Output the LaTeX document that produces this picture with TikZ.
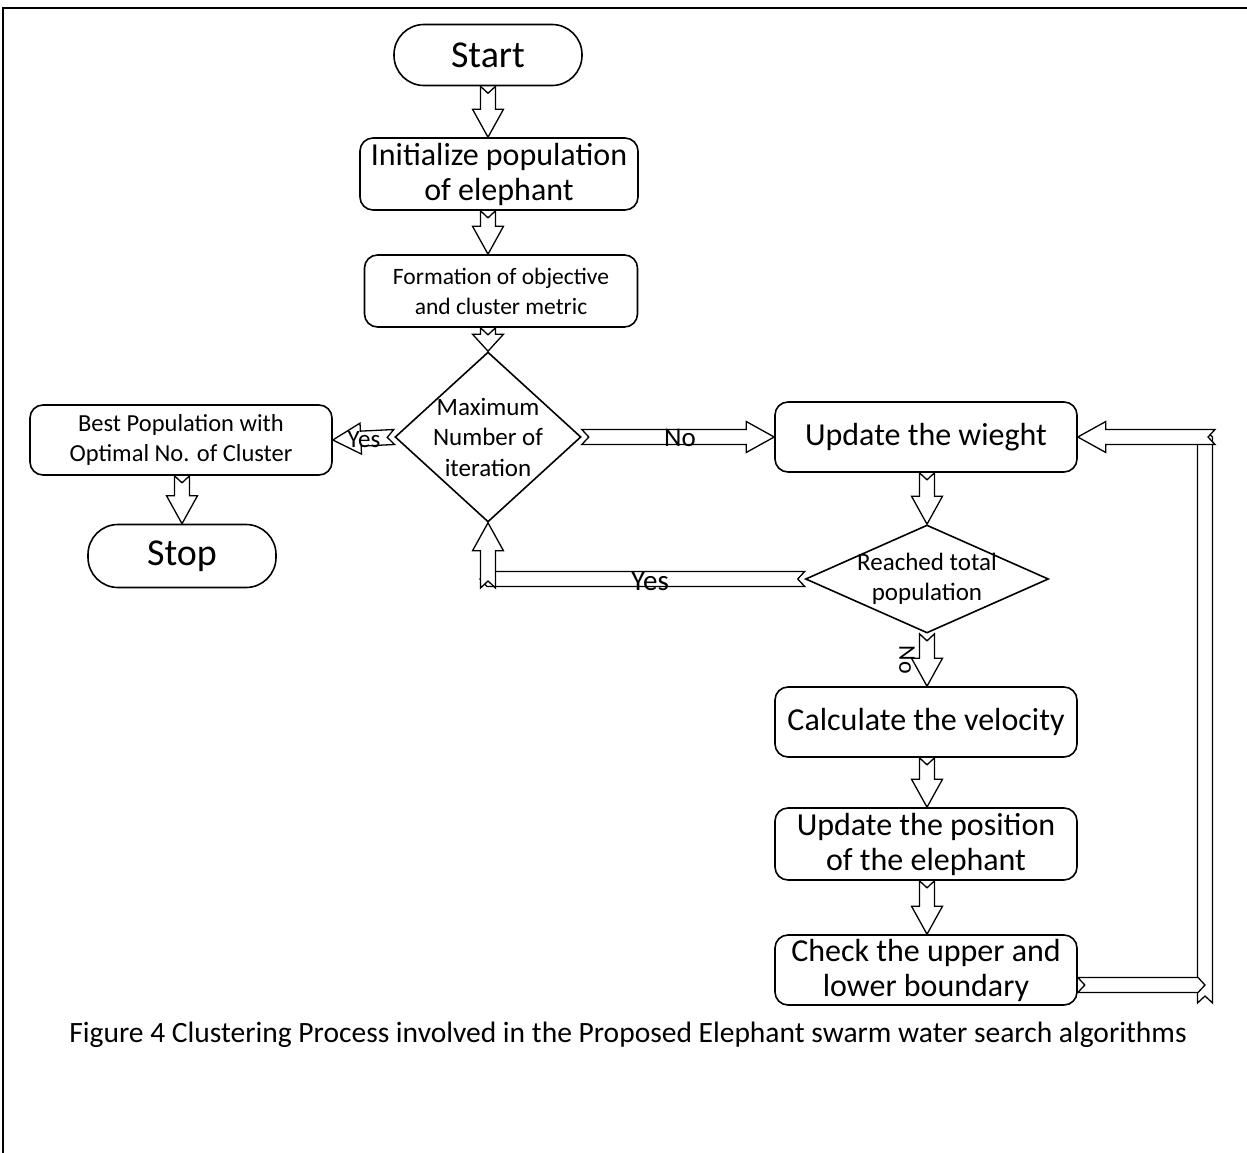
\documentclass[tikz,border=0pt]{standalone}
\usepackage{fontspec}
\setmainfont{Carlito}
\usetikzlibrary{shapes.geometric,calc}

\tikzset{
  headlen/.store in=\hdlen, headlen=28pt,
  bigtext/.style={font=\fontsize{32}{35}\selectfont},
  smalltext/.style={font=\fontsize{23.5}{30}\selectfont},
  procbox/.style={draw, line width=1.6pt, rounded corners=13pt, minimum width=302pt,
    minimum height=70pt, align=center, inner sep=2pt, bigtext},
  termbox/.style={draw, line width=1.6pt, rounded corners=30pt, minimum width=188pt,
    minimum height=61pt, font=\fontsize{38}{42}\selectfont},
  decbox/.style={draw, line width=1.6pt, diamond, align=center, font=\fontsize{25}{30.5}\selectfont},
  blockarrow/.style={draw, fill=white, line width=1.3pt,
    to path={let \p1=(\tikztostart), \p2=(\tikztotarget),
      \n1={atan2(\y2-\y1,\x2-\x1)}, \n2={veclen(\x2-\x1,\y2-\y1)} in
      {[shift={(\p1)}, rotate=\n1]
       (0pt,-7.5pt) -- (\n2-\hdlen,-7.5pt) -- (\n2-\hdlen,-15.5pt) -- (\n2,0pt)
       -- (\n2-\hdlen,15.5pt) -- (\n2-\hdlen,7.5pt) -- (0pt,7.5pt) -- (7pt,0pt) -- cycle}}},
  blockshaft/.style={draw, fill=white, line width=1.3pt,
    to path={let \p1=(\tikztostart), \p2=(\tikztotarget),
      \n1={atan2(\y2-\y1,\x2-\x1)}, \n2={veclen(\x2-\x1,\y2-\y1)} in
      {[shift={(\p1)}, rotate=\n1]
       (0pt,-7.5pt) -- (\n2-7pt,-7.5pt) -- (\n2,0pt) -- (\n2-7pt,7.5pt)
       -- (0pt,7.5pt) -- (7pt,0pt) -- cycle}}},
  lbl/.style={inner sep=0pt, font=\fontsize{27}{30}\selectfont}
}

\begin{document}
\begin{tikzpicture}[x=1pt,y=1pt]
\useasboundingbox (0,0) rectangle (1247,-1153);
\draw[line width=2pt] (3,-1153) -- (3,-8) -- (1247,-8);

\node[termbox] (start) at (488,-55) {Start};
\node[procbox, minimum width=278pt, minimum height=72pt] (init) at (499,-174) {Initialize population\\of elephant};
\node[procbox, smalltext, minimum width=273pt, minimum height=72pt] (objective) at (501,-291) {Formation of objective\\and cluster metric};
\node[decbox, aspect=1.1, inner xsep=-8pt, inner ysep=-4pt, minimum width=186pt, minimum height=170pt] (maxit) at (488,-437) {Maximum\\Number of\\iteration};
\node[procbox, font=\fontsize{24.5}{30}\selectfont] (best) at (181,-440) {Best Population with\\Optimal No. of Cluster};
\node[termbox, minimum height=63pt] (stop) at (182,-556) {Stop};

\node[procbox] (weight) at (926,-437) {Update the wieght};
\node[decbox, aspect=2.25, inner xsep=-12pt, inner ysep=-5pt, minimum width=243pt, minimum height=108pt] (reach) at (927,-579) {Reached total\\population};
\node[procbox] (velocity) at (926,-722) {Calculate the velocity};
\node[procbox, minimum height=72pt] (position) at (926,-844) {Update the position\\of the elephant};
\node[procbox] (check) at (926,-970) {Check the upper and\\lower boundary};

\draw[blockarrow] (start.south) to (start.south |- init.north);
\draw[blockarrow] (init.south -| start.south) to (objective.north -| start.south);
\draw[blockarrow, headlen=17pt] (objective.south -| start.south) to (maxit.north);
\draw[blockarrow] (maxit.west) to (best.east);
\draw[blockarrow] (best.south -| stop.north) to (stop.north);
\draw[blockarrow] (maxit.east) to (weight.west);
\draw[blockarrow] (weight.south -| reach.north) to (reach.north);
\draw[blockarrow] (reach.south) to (reach.south |- velocity.north);
\draw[blockarrow] (velocity.south -| reach.south) to (position.north -| reach.south);
\draw[blockarrow] (position.south -| reach.south) to (check.north -| reach.south);

% back to the first test
\coordinate (yesA) at (maxit.south |- reach.west);
\coordinate (yesB) at ($(yesA)+(-8,0)$);
\coordinate (yesC) at ($(yesA)+(0,-9)$);
\draw[blockshaft] (reach.west) to (yesB);
\draw[blockarrow] (yesC) to (maxit.south);

% loop from the boundary check
\coordinate (fbA) at ($(check.east)+(0,-15)$);
\coordinate (fbB) at (1205,-1003);
\coordinate (fbC) at (1205,-430);
\coordinate (fbD) at (1215,-437);
\draw[blockshaft] (fbB) to (fbC);
\draw[blockshaft] (fbA) to (fbA -| fbB);
\draw[blockarrow] (fbD) to (weight.east);

\node[lbl, font=\fontsize{25}{30}\selectfont] (yes1) at (364,-440) {Yes};
\node[lbl] (no1) at (680,-438) {No};
\node[lbl, font=\fontsize{29}{30}\selectfont] (yes2) at (650,-581) {Yes};
\node[lbl, font=\fontsize{24}{30}\selectfont, rotate=-90] (no2) at (907,-660) {No};

\node[font=\fontsize{29.5}{32}\selectfont] (caption) at (628,-1035)
  {Figure 4 Clustering Process involved in the Proposed Elephant swarm water search algorithms};
\end{tikzpicture}
\end{document}
